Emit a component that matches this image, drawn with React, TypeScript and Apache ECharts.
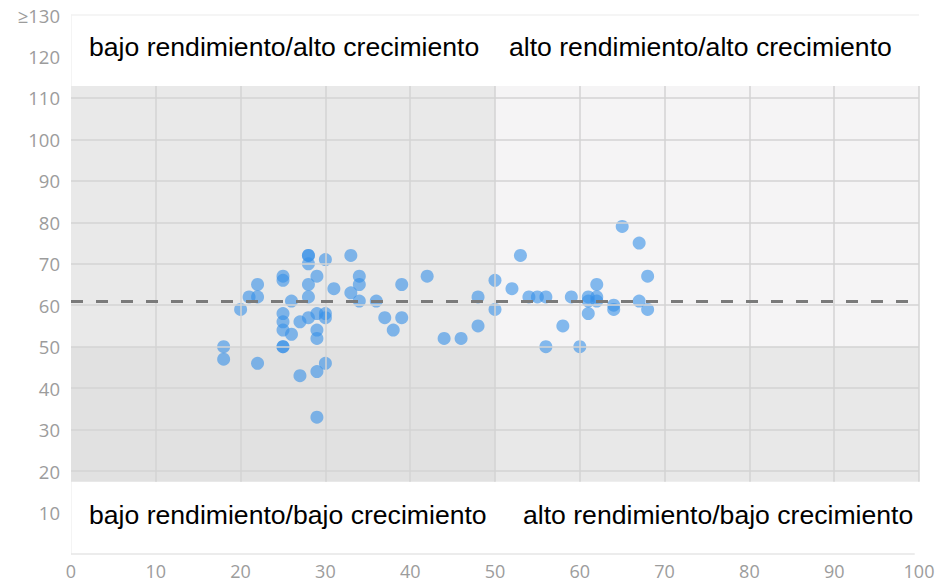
import React, { useEffect, useRef } from "react";
import * as echarts from "echarts";

const rendimiento = [
  18, 18, 20, 21, 22, 22, 22, 25, 25, 25, 25, 25, 25, 25, 26, 26, 27, 27, 28, 28,
  28, 28, 28, 28, 29, 29, 29, 29, 29, 29, 30, 30, 30, 30, 31, 33, 33, 34, 34, 34,
  36, 37, 38, 39, 39, 42, 44, 46, 48, 48, 50, 50, 52, 53, 54, 55, 56, 56, 58, 59,
  60, 61, 61, 61, 62, 62, 62, 64, 64, 65, 67, 67, 68, 68,
];
const crecimiento = [
  50, 47, 59, 62, 65, 62, 46, 67, 66, 58, 56, 54, 50, 50, 61, 53, 56, 43, 72, 72,
  70, 65, 62, 57, 67, 58, 54, 52, 44, 33, 71, 58, 57, 46, 64, 72, 63, 67, 65, 61,
  61, 57, 54, 65, 57, 67, 52, 52, 62, 55, 66, 59, 64, 72, 62, 62, 62, 50, 55, 62,
  50, 62, 61, 58, 65, 62, 61, 60, 59, 79, 75, 61, 67, 59,
];
const promedio = 61;
const xTicks = [0, 10, 20, 30, 40, 50, 60, 70, 80, 90, 100];
const yGridValues = [20, 30, 40, 50, 60, 70, 80, 90, 100, 110];
const xGridValues = [10, 20, 30, 40, 50, 60, 70, 80, 90, 100];
const quadrantX = 50;
const quadrantY = 50;
const bandLow = 17.4;
const bandHigh = 112.9;
const quadrantLabels = [
  { text: "bajo rendimiento/alto crecimiento", x: 89, y: 49 },
  { text: "alto rendimiento/alto crecimiento", x: 509, y: 49 },
  { text: "bajo rendimiento/bajo crecimiento", x: 89, y: 517 },
  { text: "alto rendimiento/bajo crecimiento", x: 523, y: 517 },
];

export default function App() {
  const ref = useRef<HTMLDivElement>(null);
  useEffect(() => {
    if (!ref.current) return;
    const chart = echarts.init(ref.current, null, { renderer: "svg" });
    const points = rendimiento.map((x, i) => [x, crecimiento[i]]);
    const gridLines: any[] = [];
    yGridValues.forEach((v) =>
      gridLines.push([{ coord: [0, v] }, { coord: [100, v] }])
    );
    xGridValues.forEach((v) =>
      gridLines.push([{ coord: [v, bandLow] }, { coord: [v, bandHigh] }])
    );
    gridLines.push([
      { coord: [0, 0], lineStyle: { color: "#e6e6e6", width: 1.5 } },
      { coord: [99.5, 0] },
    ]);
    gridLines.push([
      { coord: [0, 130], lineStyle: { color: "#f2f2f2", width: 1.5 } },
      { coord: [100, 130] },
    ]);
    const option: any = {
      animation: false,
      backgroundColor: "#ffffff",
      grid: { left: 71, right: 19, top: 15, bottom: 30 },
      xAxis: {
        type: "value",
        min: 0,
        max: 100,
        interval: 10,
        splitLine: { show: false },
        axisLine: { show: false },
        axisTick: { show: false },
        axisLabel: {
          color: "#9c9c9c",
          fontFamily: "Open Sans",
          fontSize: 18,
          lineHeight: 19,
          margin: 7.5,
          formatter: (v: number) => (xTicks.includes(v) ? String(v) : ""),
        },
      },
      yAxis: {
        type: "value",
        min: 0,
        max: 130,
        interval: 10,
        splitLine: { show: false },
        axisLine: { show: true, lineStyle: { color: "#f4f4f4", width: 1 } },
        axisTick: { show: false },
        axisLabel: {
          color: "#9c9c9c",
          fontFamily: "Open Sans",
          fontSize: 18.5,
          margin: 11,
          formatter: (v: number) => (v === 130 ? "≥130" : v === 0 ? "" : String(v)),
        },
      },
      graphic: quadrantLabels.map((q) => ({
        type: "text",
        left: q.x,
        top: q.y - 16,
        z: 10,
        style: {
          text: q.text,
          fill: "#000000",
          font: '26.6px "Liberation Sans", Arial, sans-serif',
        },
      })),
      series: [
        {
          type: "scatter",
          data: [],
          z: 0,
          silent: true,
          markArea: {
            silent: true,
            data: [
              [
                { coord: [0, quadrantY], itemStyle: { color: "#e9e9e9" } },
                { coord: [quadrantX, bandHigh] },
              ],
              [
                { coord: [quadrantX, quadrantY], itemStyle: { color: "#f5f4f5" } },
                { coord: [100, bandHigh] },
              ],
              [
                { coord: [0, bandLow], itemStyle: { color: "#e1e1e1" } },
                { coord: [quadrantX, quadrantY] },
              ],
              [
                { coord: [quadrantX, bandLow], itemStyle: { color: "#e8e8e8" } },
                { coord: [100, quadrantY] },
              ],
            ],
          },
        },
        {
          type: "scatter",
          data: [],
          z: 1,
          silent: true,
          markLine: {
            silent: true,
            symbol: "none",
            label: { show: false },
            lineStyle: { color: "#d3d3d3", width: 1.5, type: "solid" },
            data: gridLines,
          },
        },
        {
          type: "scatter",
          data: [],
          z: 1,
          silent: true,
          markLine: {
            silent: true,
            symbol: "none",
            label: { show: false },
            lineStyle: { color: "#7a7a7a", width: 3, type: [12, 13] },
            data: [[{ coord: [0, promedio] }, { coord: [100, promedio] }]],
          },
        },
        {
          type: "scatter",
          z: 2,
          symbolSize: 13,
          itemStyle: { color: "#3590e8", opacity: 0.6 },
          data: points,
        },
      ],
    };
    chart.setOption(option);
    return () => chart.dispose();
  }, []);
  return (
    <div
      ref={ref}
      style={{ position: "fixed", left: 0, top: 0, width: 938, height: 584 }}
    />
  );
}
